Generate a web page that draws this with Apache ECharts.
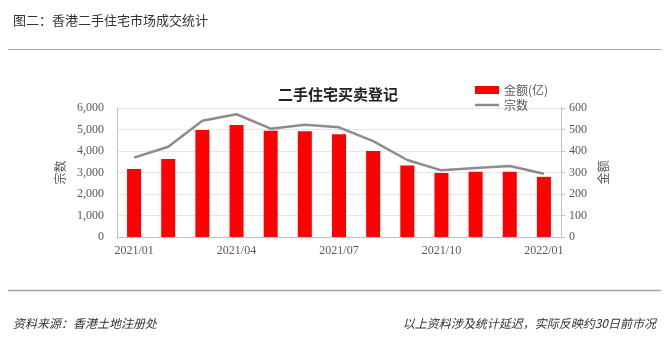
<!DOCTYPE html>
<html>
<head>
<meta charset="utf-8">
<script src="https://cdn.jsdelivr.net/npm/echarts@6/dist/echarts.min.js"></script>
<style>
  html, body { margin: 0; padding: 0; background: #fff; }
  #chart { width: 671px; height: 352px; }
</style>
</head>
<body>
<div id="chart"></div>
<script>
// months on the x axis
const months = ['2021/01', '2021/02', '2021/03', '2021/04', '2021/05', '2021/06', '2021/07',
  '2021/08', '2021/09', '2021/10', '2021/11', '2021/12', '2022/01'];
// 金额(亿), right axis
const amount = [316, 363, 498, 521, 494, 492, 478, 400, 333, 298, 304, 304, 280];
// 宗数, left axis
const count = [3690, 4200, 5410, 5710, 5040, 5220, 5100, 4460, 3580, 3100, 3210, 3300, 2940];

const numFont = '"Liberation Serif", "Noto Sans CJK SC", serif';
const cjkFont = '"Noto Sans CJK SC", sans-serif';

const chart = echarts.init(document.getElementById('chart'));

const option = {
  animation: false,
  title: [
    {
      text: '图二：香港二手住宅市场成交统计',
      left: 8, top: 9,
      textStyle: { fontFamily: cjkFont, fontSize: 13, fontWeight: 'normal', color: '#333' }
    },
    {
      text: '二手住宅买卖登记',
      left: 333, top: 82, textAlign: 'center',
      textStyle: { fontFamily: cjkFont, fontSize: 15, fontWeight: 'bold', color: '#222' }
    },
    {
      text: '资料来源：香港土地注册处',
      left: 8, top: 312,
      textStyle: { fontFamily: cjkFont, fontSize: 12, fontWeight: 'normal', fontStyle: 'italic', color: '#333' }
    },
    {
      text: '以上资料涉及统计延迟，实际反映约30日前市况',
      right: 10, top: 312,
      textStyle: { fontFamily: cjkFont, fontSize: 12, fontWeight: 'normal', fontStyle: 'italic', color: '#333' }
    }
  ],
  graphic: [
    { type: 'line', shape: { x1: 8, y1: 49.5, x2: 661, y2: 49.5 }, style: { stroke: '#a6a6a6', lineWidth: 1 } },
    { type: 'line', shape: { x1: 8, y1: 290.5, x2: 661, y2: 290.5 }, style: { stroke: '#a6a6a6', lineWidth: 1.5 } }
  ],
  legend: {
    orient: 'vertical',
    left: 470, top: 79,
    itemWidth: 24, itemHeight: 8, itemGap: 3,
    textStyle: { fontFamily: cjkFont, fontSize: 12, color: '#595959' },
    data: [
      { name: '金额(亿)', icon: 'rect' },
      { name: '宗数', icon: 'path://M0,0H24V2.5H0Z' }
    ]
  },
  grid: { left: 117, right: 110, top: 108, bottom: 115 },
  xAxis: {
    type: 'category',
    data: months,
    axisLine: { lineStyle: { color: '#bfbfbf' } },
    axisTick: { interval: 0, length: 4, lineStyle: { color: '#bfbfbf' } },
    axisLabel: { interval: 2, fontFamily: numFont, fontSize: 12, color: '#595959', margin: 8 }
  },
  yAxis: [
    {
      type: 'value', min: 0, max: 6000, interval: 1000,
      name: '宗数', nameLocation: 'middle', nameGap: 48,
      nameTextStyle: { fontFamily: cjkFont, fontSize: 12, color: '#595959' },
      axisLine: { show: true, lineStyle: { color: '#bfbfbf' } },
      axisTick: { show: false },
      splitLine: { lineStyle: { color: '#e6e6e6' } },
      axisLabel: {
        fontFamily: numFont, fontSize: 12, color: '#595959', margin: 13,
        formatter: v => v.toLocaleString('en-US')
      }
    },
    {
      type: 'value', min: 0, max: 600, interval: 100,
      name: '金额', nameLocation: 'middle', nameGap: 36,
      nameTextStyle: { fontFamily: cjkFont, fontSize: 12, color: '#595959' },
      axisLine: { show: true, lineStyle: { color: '#bfbfbf' } },
      axisTick: { show: true, length: 4, lineStyle: { color: '#bfbfbf' } },
      splitLine: { show: false },
      axisLabel: { fontFamily: numFont, fontSize: 12, color: '#595959', margin: 8 }
    }
  ],
  series: [
    {
      name: '金额(亿)',
      type: 'bar',
      yAxisIndex: 1,
      barWidth: 14,
      itemStyle: { color: '#ff0000' },
      data: amount
    },
    {
      name: '宗数',
      type: 'line',
      yAxisIndex: 0,
      symbol: 'none',
      lineStyle: { color: '#8c8c8c', width: 2.5 },
      itemStyle: { color: '#8c8c8c' },
      data: count
    }
  ]
};

chart.setOption(option);
</script>
</body>
</html>
